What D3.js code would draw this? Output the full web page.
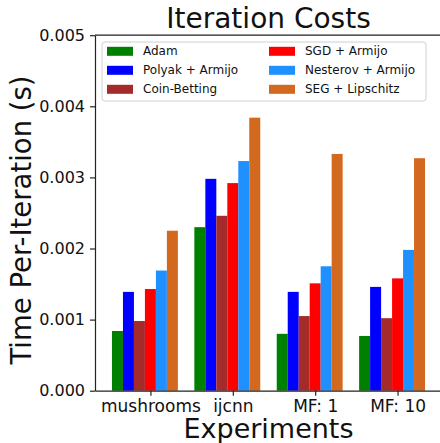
<!DOCTYPE html>
<html>
<head>
    <title>Iteration Costs</title>
    <script src="https://d3js.org/d3.v7.min.js"></script>
    <style>
        body
        {
            margin:0;
            background:white;
        }
        text
        {
            font-family:"DejaVu Sans", sans-serif;
            fill:#111;
        }
        .axis path, .axis line
        {
            stroke:#222;
            stroke-width:1.2;
        }
        .axis text
        {
            fill:#111;
        }
    </style>
</head>
<body>
    <script>
        var categories = ["mushrooms", "ijcnn", "MF: 1", "MF: 10"];
        var methods = ["Adam", "Polyak + Armijo", "Coin-Betting", "SGD + Armijo", "Nesterov + Armijo", "SEG + Lipschitz"];
        var colors = ["green", "blue", "brown", "red", "dodgerblue", "chocolate"];
        var adam     = [0.00084, 0.00230, 0.00080, 0.00077];
        var polyak   = [0.00139, 0.00298, 0.00139, 0.00146];
        var coin     = [0.00098, 0.00246, 0.00105, 0.00102];
        var sgd      = [0.00143, 0.00292, 0.00151, 0.00158];
        var nesterov = [0.00169, 0.00323, 0.00175, 0.00198];
        var seg      = [0.00225, 0.00384, 0.00333, 0.00327];
        var yTicks = [0, 0.001, 0.002, 0.003, 0.004, 0.005];

        var series = [adam, polyak, coin, sgd, nesterov, seg];
        var barW = 0.8 / methods.length;

        var svg = d3.select("body").append("svg")
                    .attr("width", 440).attr("height", 443);

        var x = d3.scaleLinear().domain([-0.206, 4.006]).range([95, 442]);
        var y = d3.scaleLinear().domain([0, 0.005]).range([390.7, 35.2]);

        // bars
        var bars = [];
        series.forEach(function(vals, k){
            vals.forEach(function(v, i){
                bars.push({k:k, i:i, v:v});
            });
        });
        svg.append("g").selectAll("rect")
            .data(bars)
            .enter().append("rect")
            .attr("x", function(d){return x(d.i + d.k*barW);})
            .attr("width", function(d){return x(d.i + (d.k+1)*barW) - x(d.i + d.k*barW);})
            .attr("y", function(d){return y(d.v);})
            .attr("height", function(d){return y(0) - y(d.v);})
            .attr("fill", function(d){return colors[d.k];});

        // axes
        svg.append("g").attr("class", "axis")
            .attr("transform", "translate(" + x.range()[0] + ",0)")
            .call(d3.axisLeft(y).tickValues(yTicks).tickFormat(d3.format(".3f"))
                    .tickSize(5).tickSizeOuter(0).tickPadding(5))
            .selectAll("text").style("font-size", "16px");

        svg.append("g").attr("class", "axis")
            .attr("transform", "translate(0," + y(0) + ")")
            .call(d3.axisBottom(x).tickValues(categories.map(function(c, i){return i + 3.5*barW;}))
                    .tickFormat(function(d, i){return categories[i];})
                    .tickSize(5).tickSizeOuter(0).tickPadding(4))
            .selectAll("text").style("font-size", "17px");

        // top spine (right one falls past the edge)
        svg.append("line")
            .attr("x1", x.range()[0]).attr("x2", x.range()[1])
            .attr("y1", y.range()[1]).attr("y2", y.range()[1])
            .attr("stroke", "#222").attr("stroke-width", 1.2);

        // titles
        var midX = (x.range()[0] + x.range()[1]) / 2;
        svg.append("text").text("Iteration Costs")
            .attr("x", midX).attr("y", 28)
            .attr("text-anchor", "middle").style("font-size", "28px");
        svg.append("text").text("Experiments")
            .attr("x", midX).attr("y", 438)
            .attr("text-anchor", "middle").style("font-size", "27px");
        svg.append("text").text("Time Per-Iteration (s)")
            .attr("transform", "translate(31," + 220 + ") rotate(-90)")
            .attr("text-anchor", "middle").style("font-size", "27.5px");

        // legend
        var legend = svg.append("g");
        legend.append("rect")
            .attr("x", 102).attr("y", 42).attr("width", 324).attr("height", 59)
            .attr("rx", 3)
            .attr("fill", "white").attr("fill-opacity", 0.8)
            .attr("stroke", "#d0d0d0").attr("stroke-width", 1);
        var items = legend.selectAll("g.item")
            .data(methods)
            .enter().append("g")
            .attr("transform", function(d, i){
                var col = Math.floor(i / 3), row = i % 3;
                return "translate(" + (107 + col*162) + "," + (51.3 + row*19) + ")";
            });
        items.append("rect")
            .attr("x", 0).attr("y", -4.5).attr("width", 26).attr("height", 9)
            .attr("fill", function(d, i){return colors[i];});
        items.append("text")
            .text(function(d){return d;})
            .attr("x", 36).attr("y", 0)
            .attr("dominant-baseline", "central")
            .style("font-size", "12px");
    </script>
</body>
</html>
